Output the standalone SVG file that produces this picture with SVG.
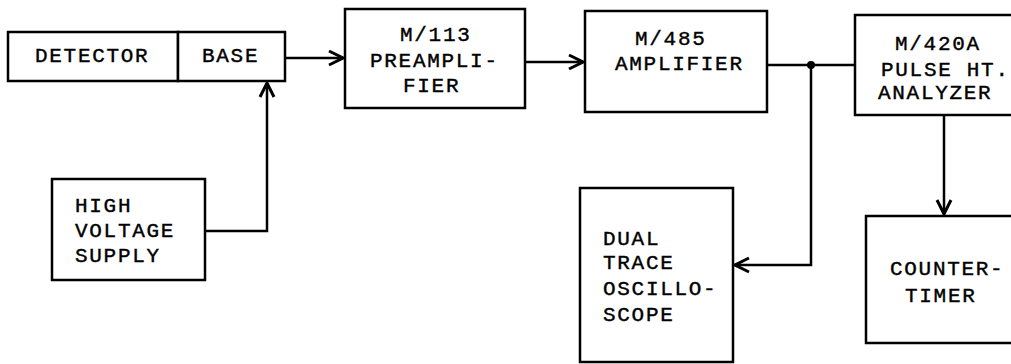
<svg xmlns="http://www.w3.org/2000/svg" width="1011" height="364" viewBox="0 0 1011 364">
<style>
.box{fill:#fff;stroke:#000;stroke-width:2.5}
.t{font-family:"Liberation Mono","Courier New",monospace;font-size:21px;letter-spacing:1.7px;fill:#000;stroke:#000;stroke-width:0.4}
.c{fill:none;stroke:#000;stroke-width:2.5}
</style>
<defs>
<marker id="ah" viewBox="0 0 20 20" refX="18" refY="10" markerWidth="20" markerHeight="20" markerUnits="userSpaceOnUse" orient="auto">
<path d="M4,3 L18,10 L4,17" fill="none" stroke="#000" stroke-width="3"/>
</marker>
</defs>
<rect width="1011" height="364" fill="#fff"/>
<g id="detector">
<rect class="box" x="8" y="32" width="170" height="49"/>
<text class="t" x="35" y="62">DETECTOR</text>
</g>
<g id="base">
<rect class="box" x="178" y="32" width="107" height="49"/>
<text class="t" x="202" y="62">BASE</text>
</g>
<g id="preamp">
<rect class="box" x="345" y="9" width="180" height="99"/>
<text class="t" x="400" y="41">M/113</text>
<text class="t" x="370" y="67">PREAMPLI-</text>
<text class="t" x="403" y="92">FIER</text>
</g>
<g id="amplifier">
<rect class="box" x="585" y="11" width="182" height="101"/>
<text class="t" x="635" y="45">M/485</text>
<text class="t" x="615" y="70">AMPLIFIER</text>
</g>
<g id="pha">
<rect class="box" x="855" y="15" width="165" height="100"/>
<text class="t" x="895" y="50">M/420A</text>
<text class="t" x="881" y="76">PULSE HT.</text>
<text class="t" x="878" y="99">ANALYZER</text>
</g>
<g id="hv">
<rect class="box" x="52" y="179" width="153" height="101"/>
<text class="t" x="75" y="212">HIGH</text>
<text class="t" x="75" y="237">VOLTAGE</text>
<text class="t" x="75" y="262">SUPPLY</text>
</g>
<g id="scope">
<rect class="box" x="580" y="188" width="153" height="174"/>
<text class="t" x="603" y="245">DUAL</text>
<text class="t" x="603" y="269">TRACE</text>
<text class="t" x="603" y="295">OSCILLO-</text>
<text class="t" x="603" y="321">SCOPE</text>
</g>
<g id="counter">
<rect class="box" x="866" y="216" width="155" height="127"/>
<text class="t" x="890" y="275">COUNTER-</text>
<text class="t" x="905" y="302">TIMER</text>
</g>
<g id="connectors">
<path class="c" d="M285,58 L343,58" marker-end="url(#ah)"/>
<path class="c" d="M525,62 L583,62" marker-end="url(#ah)"/>
<path class="c" d="M767,65 L855,65"/>
<circle cx="811" cy="65" r="4" fill="#000"/>
<path class="c" d="M811,65 L811,265 L735,265" marker-end="url(#ah)"/>
<path class="c" d="M205,231 L267,231 L267,83" marker-end="url(#ah)"/>
<path class="c" d="M944,115 L944,214" marker-end="url(#ah)"/>
</g>
</svg>
